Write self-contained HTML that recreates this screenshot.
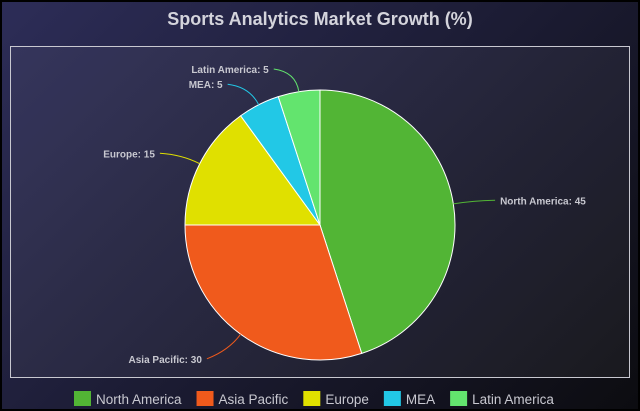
<!DOCTYPE html>
<html><head><meta charset="utf-8"><style>
html,body{margin:0;padding:0;background:#000}
#wrap{position:relative;width:640px;height:411px;overflow:hidden;background:linear-gradient(135deg,#2d2d58 0%,#1c1c34 50%,#0c0c10 100%);font-family:"Liberation Sans",sans-serif}
</style></head><body>
<div id="wrap">
<svg id="chart" width="640" height="411">
<rect x="0.5" y="0.5" width="639" height="410" fill="none" stroke="#000" stroke-width="3"/>
<text x="320" y="25" text-anchor="middle" fill="#d4d4dc" font-size="18" font-weight="bold">Sports Analytics Market Growth (%)</text>
<rect x="10.5" y="46.5" width="619" height="331" fill="rgba(255,255,255,0.05)" stroke="#c8c8d0" stroke-width="1"/>
<g id="slices"></g>
<g id="labels"></g>
<g id="legend"></g>
</svg>
</div>
<script>
const categories=["North America","Asia Pacific","Europe","MEA","Latin America"];
const values=[45,30,15,5,5];
const colors=["#52b535","#f05a1c","#e0e000","#22c8e6","#63e46e"];
const NS="http://www.w3.org/2000/svg";
const cx=320,cy=225,R=135;
const total=values.reduce((a,b)=>a+b,0);
const sg=document.getElementById('slices'),lg=document.getElementById('labels'),leg=document.getElementById('legend');
function pt(a,r){return [cx+r*Math.sin(a),cy-r*Math.cos(a)];}
let acc=0;
values.forEach((v,i)=>{
  const a0=acc/total*2*Math.PI; acc+=v; const a1=acc/total*2*Math.PI;
  const p0=pt(a0,R),p1=pt(a1,R);
  const path=document.createElementNS(NS,'path');
  path.setAttribute('d',`M${cx},${cy}L${p0[0]},${p0[1]}A${R},${R} 0 ${a1-a0>Math.PI?1:0} 1 ${p1[0]},${p1[1]}Z`);
  path.setAttribute('fill',colors[i]);path.setAttribute('stroke','#fff');path.setAttribute('stroke-width','1');
  
  
  sg.appendChild(path);
  const am=(a0+a1)/2, right=Math.sin(am)>=0;
  const s=pt(am,R), m=pt(am,R+20);
  const ex=m[0]+(right?22:-22), ey=m[1]-3*Math.cos(am)+ (Math.cos(am)<0?6:0);
  const line=document.createElementNS(NS,'path');
  line.setAttribute('d',`M${s[0]},${s[1]}Q${m[0]},${m[1]} ${ex},${ey}`);
  line.setAttribute('fill','none');line.setAttribute('stroke',colors[i]);line.setAttribute('stroke-width','1');
  
  
  lg.appendChild(line);
  const t=document.createElementNS(NS,'text');
  t.setAttribute('x',ex+(right?5:-5));t.setAttribute('y',ey+4);
  t.setAttribute('text-anchor',right?'start':'end');
  t.setAttribute('fill','#c8c8d0');t.setAttribute('font-size','10');t.setAttribute('font-weight','bold');
  t.textContent=categories[i]+': '+v;
  
  
  lg.appendChild(t);
});
let lx=74;
categories.forEach((c,i)=>{
  const g=document.createElementNS(NS,'g');
  
  
  const r=document.createElementNS(NS,'rect');
  r.setAttribute('x',lx);r.setAttribute('y',391);r.setAttribute('width',17);r.setAttribute('height',15);r.setAttribute('fill',colors[i]);
  g.appendChild(r);
  const t=document.createElementNS(NS,'text');
  t.setAttribute('x',lx+22);t.setAttribute('y',404);t.setAttribute('fill','#c8c8d0');t.setAttribute('font-size','13.5');
  t.textContent=c;
  g.appendChild(t);
  leg.appendChild(g);
  lx+=22+t.getComputedTextLength()+15;
});
</script>
</body></html>
